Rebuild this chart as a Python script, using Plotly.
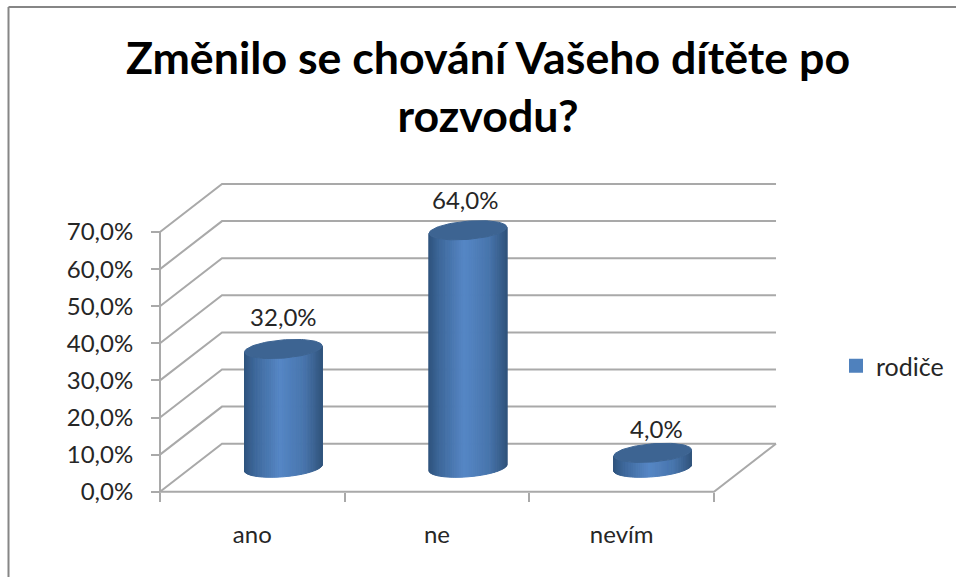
import numpy as np
import plotly.graph_objects as go

WIDTH, HEIGHT = 956, 577

categories = ["ano", "ne", "nevím"]
rodice = [32.0, 64.0, 4.0]
y_ticks = [0, 10, 20, 30, 40, 50, 60, 70]
y_labels = ["0,0%", "10,0%", "20,0%", "30,0%", "40,0%", "50,0%", "60,0%", "70,0%"]
x_edges = [0, 1, 2, 3]
x_centers = [0.5, 1.5, 2.5]

# pixels per axis unit, and where the front corner of the floor sits
PX_X, PX_Y = 184.67, 3.71
X0_PX, Y0_PX = 160, 491.7

# oblique depth of the fake 3d box, in axis units
DEPTH_X = 62 / PX_X
DEPTH_Y = 48 / PX_Y
CYL_RX = 36.8 / PX_X
CYL_DEPTH = 0.2

# small per-label shifts of the value labels above the cylinder tops
LABEL_DX = [0.0, -0.015, 0.02]
LABEL_DY = [4.7, 4.2, 2.3]

GRID = "#a9a9a9"
TEXT = "#262626"
FONT = "Lato, Carlito, sans-serif"
TOP_COLOR = "#3d6492"
LEGEND_COLOR = "#4f81bd"

STOPS = [(0.0, (48, 84, 126)), (0.14, (62, 104, 155)), (0.46, (86, 135, 198)),
         (0.78, (72, 117, 172)), (1.0, (50, 85, 126))]


def shade(t):
    ts = [s[0] for s in STOPS]
    rgb = [np.interp(t, ts, [s[1][i] for s in STOPS]) for i in range(3)]
    return "rgb(%d,%d,%d)" % tuple(rgb)


fig = go.Figure()

# walls and floor
wall_x, wall_y = [], []
for v in y_ticks:
    wall_x += [0, DEPTH_X, 3 + DEPTH_X, None]
    wall_y += [v, v + DEPTH_Y, v + DEPTH_Y, None]
wall_x += [0, 0, None, 0, 3, 3 + DEPTH_X]
wall_y += [0, 70, None, 0, 0, DEPTH_Y]
fig.add_scatter(x=wall_x, y=wall_y, mode="lines", hoverinfo="skip", showlegend=False,
                line=dict(color=GRID, width=2))

# cylinders, one thin polygon per shading step
n_strips = 60
theta0 = np.arctan2(CYL_DEPTH * DEPTH_X * PX_X, CYL_RX * PX_X)
for i, v in enumerate(rodice):
    cx = i + 0.5 + DEPTH_X / 2
    cy = DEPTH_Y / 2

    def ring(th, level):
        return (cx + CYL_RX * np.cos(th) + CYL_DEPTH * DEPTH_X * np.sin(th),
                cy + level + CYL_DEPTH * DEPTH_Y * np.sin(th))

    half = np.hypot(CYL_RX, CYL_DEPTH * DEPTH_X)
    angles = np.linspace(theta0 + np.pi, theta0 + 2 * np.pi, n_strips + 1)
    for a, b in zip(angles[:-1], angles[1:]):
        xa0, ya0 = ring(a, 0)
        xb0, yb0 = ring(b, 0)
        xa1, ya1 = ring(a, v)
        xb1, yb1 = ring(b, v)
        t = ((xa0 + xb0) / 2 - (cx - half)) / (2 * half)
        col = shade(t)
        fig.add_scatter(x=[xa0, xb0, xb1, xa1, xa0], y=[ya0, yb0, yb1, ya1, ya0],
                        mode="lines", fill="toself", fillcolor=col,
                        line=dict(color=col, width=1), hoverinfo="skip", showlegend=False)
    th = np.linspace(0, 2 * np.pi, 90)
    tx, ty = ring(th, v)
    fig.add_scatter(x=tx, y=ty, mode="lines", fill="toself", fillcolor=TOP_COLOR,
                    line=dict(color=TOP_COLOR, width=1), hoverinfo="skip", showlegend=False)

# data labels
fig.add_scatter(
    x=[i + 0.5 + DEPTH_X / 2 + LABEL_DX[i] for i in range(3)],
    y=[v + DEPTH_Y / 2 + LABEL_DY[i] for i, v in enumerate(rodice)],
    mode="text", text=[f"{v:.1f}%".replace(".", ",") for v in rodice],
    textposition="top center", textfont=dict(family=FONT, size=24, color=TEXT),
    hoverinfo="skip", showlegend=False,
)

# legend entry only
fig.add_scatter(x=[None], y=[None], mode="markers", name="rodiče",
                marker=dict(symbol="square", size=14, color=LEGEND_COLOR))

fig.update_layout(
    width=WIDTH, height=HEIGHT,
    margin=dict(l=0, r=0, t=0, b=0),
    paper_bgcolor="white", plot_bgcolor="white",
    font=dict(family=FONT, size=24, color=TEXT),
    title=dict(text="Změnilo se chování Vašeho dítěte po<br>rozvodu?",
               font=dict(family=FONT, size=44.7, color="#000000", weight="bold"),
               x=488 / WIDTH, xanchor="center", y=1 - 74 / HEIGHT, yanchor="top"),
    legend=dict(x=836 / WIDTH, y=1 - 366 / HEIGHT, xanchor="left", yanchor="middle",
                font=dict(family=FONT, size=25, color=TEXT), bgcolor="rgba(0,0,0,0)"),
    shapes=[
        dict(type="line", xref="paper", yref="paper", x0=8.5 / WIDTH, x1=8.5 / WIDTH,
             y0=0, y1=1 - 7 / HEIGHT, line=dict(color="#868686", width=2)),
        dict(type="line", xref="paper", yref="paper", x0=8.5 / WIDTH, x1=1,
             y0=1 - 7 / HEIGHT, y1=1 - 7 / HEIGHT, line=dict(color="#868686", width=2)),
    ],
)
fig.update_xaxes(
    range=[-X0_PX / PX_X, (WIDTH - X0_PX) / PX_X],
    anchor="free", position=(HEIGHT - Y0_PX) / HEIGHT,
    tickmode="array", tickvals=x_centers, ticktext=categories,
    ticks="", ticklabelstandoff=26, showgrid=False, zeroline=False, showline=False,
    minor=dict(tickmode="array", tickvals=x_edges, ticks="outside", ticklen=9,
               tickwidth=2, tickcolor=GRID, showgrid=False),
)
fig.update_yaxes(
    range=[(Y0_PX - HEIGHT) / PX_Y, Y0_PX / PX_Y],
    anchor="free", position=X0_PX / WIDTH,
    tickmode="array", tickvals=y_ticks, ticktext=y_labels,
    ticks="outside", ticklen=9, tickwidth=2, tickcolor=GRID,
    ticklabelstandoff=13, showgrid=False, zeroline=False, showline=False,
)

# the page's default body margin would shift the whole figure by 8px
fig.write_html("out.html", config=dict(displayModeBar=False),
               post_script="document.body.style.margin='0';")
